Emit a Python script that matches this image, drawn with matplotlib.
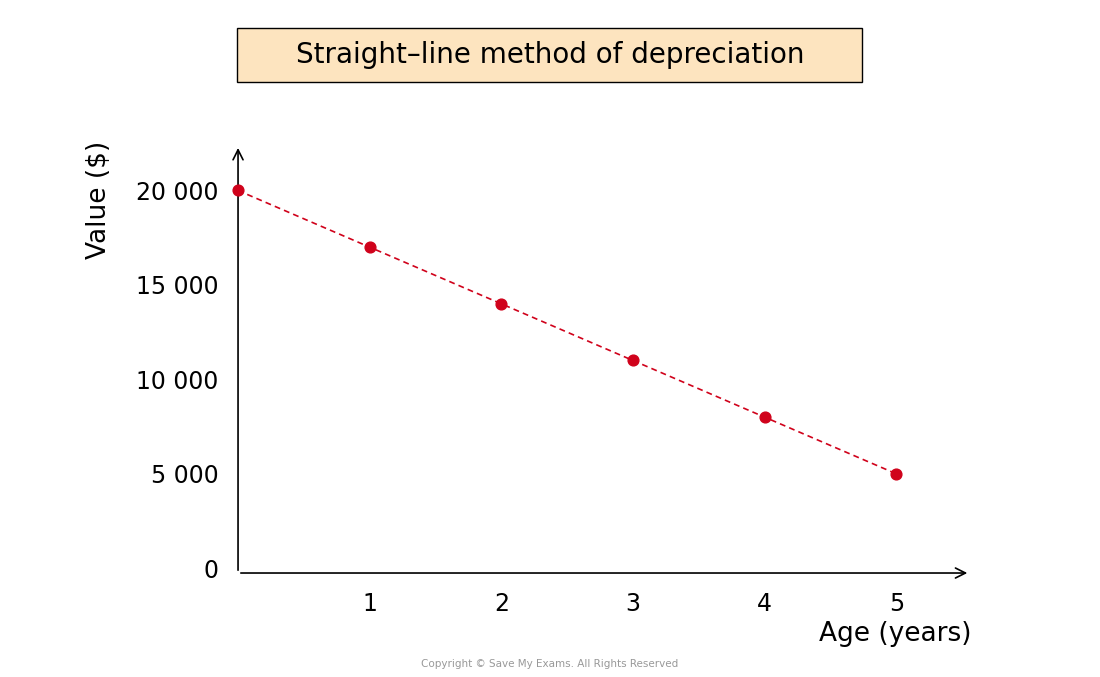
import matplotlib
matplotlib.use("Agg")
import matplotlib.pyplot as plt
from matplotlib.patches import Rectangle

ages = [0, 1, 2, 3, 4, 5]
values = [20000, 17000, 14000, 11000, 8000, 5000]
yticks = [0, 5000, 10000, 15000, 20000]
ytick_labels = ["0", "5 000", "10 000", "15 000", "20 000"]
xticks = [1, 2, 3, 4, 5]

plt.rcParams['font.family'] = ['DejaVu Sans']
fig = plt.figure(figsize=(11, 6.77), dpi=100)
ax = fig.add_axes([0.2164, 0.1536, 0.6655, 0.632])
ymin, ymax = -250, 22400
xmin, xmax = 0, 5.56
ax.set_xlim(xmin, xmax)
ax.set_ylim(ymin, ymax)
for s in ax.spines.values():
    s.set_visible(False)
ax.annotate("", xy=(xmax, ymin), xytext=(0, ymin), annotation_clip=False,
            arrowprops=dict(arrowstyle="->", lw=1.2, color="black", mutation_scale=18))
ax.annotate("", xy=(0, ymax), xytext=(0, ymin), annotation_clip=False,
            arrowprops=dict(arrowstyle="->", lw=1.2, color="black", mutation_scale=18))
ax.plot(ages, values, color="#d0021b", ls=(0, (3.5, 2.5)), lw=1.2, zorder=3)
ax.scatter(ages, values, color="#d0021b", s=60, zorder=4, clip_on=False)
ax.set_yticks(yticks)
ax.set_yticklabels(ytick_labels, fontsize=17)
ax.set_xticks(xticks)
ax.set_xticklabels([str(t) for t in xticks], fontsize=17)
ax.tick_params(length=0, pad=14)
fig.text(0.8836, 0.063, "Age (years)", fontsize=19, ha="right", va="center")
fig.text(0.09, 0.705, "Value ($)", fontsize=19, rotation=90, ha="center", va="center")
fig.patches.append(Rectangle((237/1100, 1-82/677), 625/1100, 54/677, transform=fig.transFigure,
                             fc="#fde4bf", ec="black", lw=1))
fig.text(0.5, 1-55/677, "Straight\u2013line method of depreciation", fontsize=20, ha="center",
         va="center")
fig.text(0.5, 0.019, "Copyright \u00a9 Save My Exams. All Rights Reserved", fontsize=7.5,
         color="#999999", ha="center", va="center")
fig.savefig("out.png", dpi=100)
